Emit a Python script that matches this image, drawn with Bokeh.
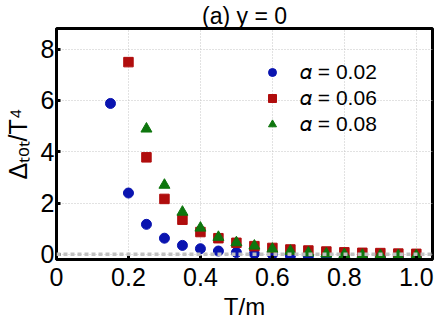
from bokeh.plotting import figure
from bokeh.models import Range1d, FixedTicker, Span, Legend, LegendItem, Title
from bokeh.embed import file_html
from bokeh.resources import INLINE

# ---- data ----
T = [0.15, 0.20, 0.25, 0.30, 0.35, 0.40, 0.45, 0.50, 0.55, 0.60,
     0.65, 0.70, 0.75, 0.80, 0.85, 0.90, 0.95, 1.00]
a002 = [5.88, 2.39, 1.17, 0.63, 0.35, 0.22, 0.13, 0.07, 0.02, 0.0,
        -0.06, -0.08, -0.09, -0.10, -0.10, -0.10, -0.10, -0.10]
T2 = [0.20, 0.25, 0.30, 0.35, 0.40, 0.45, 0.50, 0.55, 0.60,
      0.65, 0.70, 0.75, 0.80, 0.85, 0.90, 0.95, 1.00]
a006 = [7.49, 3.78, 2.16, 1.35, 0.87, 0.63, 0.45, 0.32, 0.25,
        0.19, 0.15, 0.11, 0.08, 0.06, 0.05, 0.03, 0.02]
T3 = [0.25, 0.30, 0.35, 0.40, 0.45, 0.50, 0.55, 0.60,
      0.65, 0.70, 0.75, 0.80, 0.85, 0.90, 0.95, 1.00]
a008 = [4.89, 2.70, 1.65, 1.03, 0.67, 0.46, 0.33, 0.21,
        0.13, 0.06, 0.02, 0.0, -0.03, -0.04, -0.05, -0.05]
labels = ["𝛼 = 0.02", "𝛼 = 0.06", "𝛼 = 0.08"]
x_ticks = [0, 0.2, 0.4, 0.6, 0.8, 1.0]
x_tick_labels = ["0", "0.2", "0.4", "0.6", "0.8", "1.0"]
y_ticks = [0, 2, 4, 6, 8]
y_tick_labels = ["0", "2", "4", "6", "8"]

FONT = "Liberation Sans"
BLUE, RED, GREEN = "#0a14b0", "#b00d0d", "#0e760e"

p = figure(frame_width=376, frame_height=231, output_backend="svg",
           toolbar_location=None, x_range=Range1d(0, 1.045),
           y_range=Range1d(-0.2, 8.8), min_border_right=4,
           min_border_top=0, min_border_left=0, min_border_bottom=0)
p.background_fill_color = "white"
p.border_fill_color = "white"
p.outline_line_color = "black"
p.outline_line_width = 3

p.title = Title(text="(a) y = 0", align="center", text_font=FONT,
                text_font_size="23px", text_font_style="normal",
                text_color="black", standoff=0)

for ax in (p.xaxis[0], p.yaxis[0]):
    ax.axis_line_width = 3
    ax.axis_line_color = "black"
    ax.major_tick_in = 4
    ax.major_tick_out = 0
    ax.major_tick_line_width = 3
    ax.minor_tick_line_color = None
    ax.major_label_text_font = FONT
    ax.major_label_text_font_size = "25px"
    ax.major_label_text_color = "black"
    ax.axis_label_text_font = FONT
    ax.axis_label_text_font_style = "normal"
    ax.axis_label_text_color = "black"

p.xaxis.ticker = FixedTicker(ticks=x_ticks)
p.xaxis.major_label_overrides = {t: l for t, l in zip(x_ticks, x_tick_labels)}
p.yaxis.ticker = FixedTicker(ticks=y_ticks)
p.yaxis.major_label_overrides = {t: l for t, l in zip(y_ticks, y_tick_labels)}
p.xaxis.axis_label = "T/m"
p.xaxis.axis_label_text_font_size = "24px"
p.xaxis.axis_label_standoff = 4
p.yaxis.axis_label = "Δₜₒₜ/T⁴"
p.yaxis.axis_label_text_font_size = "25px"
p.yaxis.axis_label_standoff = 6
p.xaxis.major_label_standoff = 8
p.yaxis.major_label_standoff = 2

p.xgrid.grid_line_color = "#c4c4c4"
p.ygrid.grid_line_color = "#c4c4c4"
p.xgrid.grid_line_dash = "1 2"
p.ygrid.grid_line_dash = "1 2"
p.xgrid.grid_line_width = 1
p.ygrid.grid_line_width = 1

p.add_layout(Span(location=0, dimension="width", line_color="#c0c0c0",
                  line_width=3.5, line_dash="4 3"))

r1 = p.scatter(T, a002, marker="circle", size=10, color=BLUE)
r2 = p.scatter(T2, a006, marker="square", size=9.5, color=RED)
r3 = p.scatter(T3, a008, marker="triangle", size=11, color=GREEN)

legend = Legend(items=[LegendItem(label=labels[0], renderers=[r1]),
                       LegendItem(label=labels[1], renderers=[r2]),
                       LegendItem(label=labels[2], renderers=[r3])],
                location=(206, 123), padding=0, margin=0, spacing=2,
                glyph_width=20, glyph_height=20, label_height=20,
                label_standoff=18, border_line_color=None,
                background_fill_alpha=0, label_text_font=FONT,
                label_text_font_size="21px", label_text_color="black")
p.add_layout(legend)

open("out.html", "w").write(file_html(p, INLINE))
